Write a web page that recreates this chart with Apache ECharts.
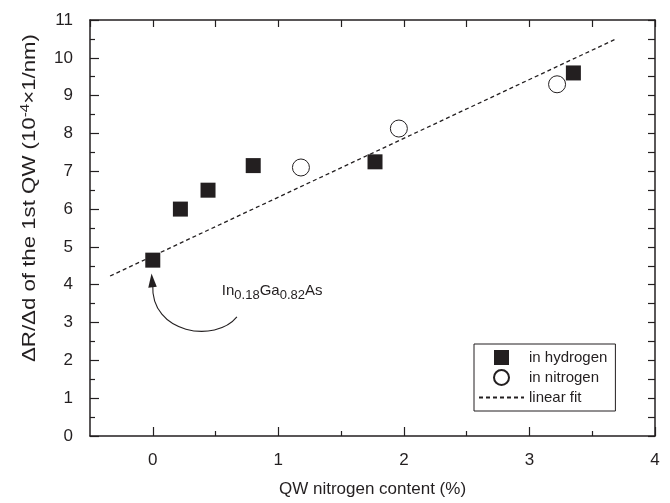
<!DOCTYPE html>
<html>
<head>
<meta charset="utf-8">
<script src="https://cdn.jsdelivr.net/npm/echarts@6/dist/echarts.min.js"></script>
<style>
  html, body { margin: 0; padding: 0; background: #fff; }
  #chart { width: 670px; height: 503px; }
</style>
</head>
<body>
<div id="chart"></div>
<script>
// QW nitrogen content (%) vs dR/dd
const hydrogenX = [0, 0.22, 0.44, 0.8, 1.77, 3.35]
const hydrogenY = [4.65, 6.0, 6.5, 7.15, 7.25, 9.6]
const nitrogenX = [1.18, 1.96, 3.22]
const nitrogenY = [7.1, 8.13, 9.3]
const fitX = [-0.34, 3.69]
const fitY = [4.23, 10.5]
const xMajorTicks = [0, 1, 2, 3, 4]
const xMinorTicks = [0.5, 1.5, 2.5, 3.5]

const ink = '#231f20'
const font = 'Liberation Sans, Arial, sans-serif'
const zip = (xs, ys) => xs.map((x, i) => [x, ys[i]])

const chart = echarts.init(document.getElementById('chart'))

const xBase = { type: 'value', min: -0.5, max: 4, splitLine: { show: false } }
const yBase = { type: 'value', min: 0, max: 11, splitLine: { show: false } }

chart.setOption({
  animation: false,
  backgroundColor: '#fff',
  textStyle: { fontFamily: font, color: ink },
  grid: { left: 90, right: 15, top: 20, bottom: 66 },
  xAxis: [
    {
      ...xBase,
      position: 'bottom',
      name: 'QW nitrogen content (%)',
      nameLocation: 'middle',
      nameGap: 45,
      nameTextStyle: { fontSize: 17, color: ink, fontFamily: font },
      axisLine: { onZero: false, lineStyle: { color: ink, width: 1.5 } },
      axisTick: { inside: true, length: 9, customValues: xMajorTicks, lineStyle: { color: ink, width: 1.2 } },
      axisLabel: { customValues: xMajorTicks, fontSize: 17, color: ink, margin: 16, fontFamily: font }
    },
    {
      ...xBase,
      position: 'bottom',
      axisLine: { show: false, onZero: false },
      axisTick: { inside: true, length: 5, customValues: xMinorTicks, lineStyle: { color: ink, width: 1.2 } },
      axisLabel: { show: false }
    },
    {
      ...xBase,
      position: 'top',
      interval: 0.5,
      axisLine: { onZero: false, lineStyle: { color: ink, width: 1.5 } },
      axisTick: { inside: true, length: 7, lineStyle: { color: ink, width: 1.2 } },
      axisLabel: { show: false }
    }
  ],
  yAxis: [
    {
      ...yBase,
      position: 'left',
      interval: 1,
      axisLine: { onZero: false, lineStyle: { color: ink, width: 1.5 } },
      axisTick: { inside: true, length: 9, lineStyle: { color: ink, width: 1.2 } },
      minorTick: { show: true, splitNumber: 2, length: 5, lineStyle: { color: ink, width: 1.2 } },
      axisLabel: { fontSize: 17, color: ink, margin: 17, fontFamily: font }
    },
    {
      ...yBase,
      position: 'right',
      interval: 0.5,
      axisLine: { onZero: false, lineStyle: { color: ink, width: 1.5 } },
      axisTick: { inside: true, length: 7, lineStyle: { color: ink, width: 1.2 } },
      axisLabel: { show: false }
    }
  ],
  legend: {
    left: 474,
    top: 344,
    orient: 'vertical',
    padding: [6, 8, 6, 4],
    borderColor: ink,
    borderWidth: 1,
    itemWidth: 45,
    itemHeight: 15,
    itemGap: 4,
    textStyle: { fontSize: 15, color: ink, fontFamily: font },
    data: [
      { name: 'in hydrogen', icon: 'path://M0,0H1V1H0Z' },
      { name: 'in nitrogen', icon: 'circle' },
      { name: 'linear fit', itemStyle: { opacity: 0 } }
    ]
  },
  series: [
    {
      name: 'linear fit',
      type: 'line',
      data: zip(fitX, fitY),
      symbol: 'none',
      itemStyle: { color: ink },
      lineStyle: { color: ink, width: 1.3, type: [4, 3] },
      z: 1
    },
    {
      name: 'in hydrogen',
      type: 'scatter',
      data: zip(hydrogenX, hydrogenY),
      symbol: 'rect',
      symbolSize: 15,
      itemStyle: { color: ink, opacity: 1 },
      z: 3
    },
    {
      name: 'in nitrogen',
      type: 'scatter',
      data: zip(nitrogenX, nitrogenY),
      symbol: 'circle',
      symbolSize: 17,
      itemStyle: { color: '#fff', borderColor: ink, borderWidth: 1, opacity: 1 },
      z: 3
    }
  ]
})

// annotation: label + curved arrow pointing at the x=0 point
const px = (x, y) => chart.convertToPixel({ xAxisIndex: 0, yAxisIndex: 0 }, [x, y])
const labelPos = px(0.55, 3.85)
const a0 = px(0.67, 3.15)
const c1 = px(0.5, 2.45)
const c2 = px(-0.02, 2.7)
const tip = px(-0.01, 4.3)
const a1 = px(0.0, 4.0)

chart.setOption({
  graphic: [
    {
      // y axis title, drawn tall like the original
      type: 'text',
      x: 30,
      y: 198,
      rotation: Math.PI / 2,
      scaleX: 1.17,
      style: {
        text: '{t|ΔR/Δd of the 1st QW (10}{s|-4}{t|×1/nm)}',
        align: 'center',
        verticalAlign: 'middle',
        rich: {
          t: { fontSize: 19, fill: ink, fontFamily: font },
          s: { fontSize: 13, fill: ink, fontFamily: font, padding: [0, 0, 9, 0] }
        }
      }
    },
    {
      type: 'text',
      x: labelPos[0],
      y: labelPos[1],
      style: {
        text: '{m|In}{b|0.18}{m|Ga}{b|0.82}{m|As}',
        verticalAlign: 'middle',
        rich: {
          m: { fontSize: 15, fill: ink, fontFamily: font },
          b: { fontSize: 13, fill: ink, fontFamily: font, padding: [10, 0, 0, 0] }
        }
      }
    },
    {
      type: 'bezierCurve',
      shape: { x1: a0[0], y1: a0[1], cpx1: c1[0], cpy1: c1[1], cpx2: c2[0], cpy2: c2[1], x2: a1[0], y2: a1[1] },
      style: { stroke: ink, lineWidth: 1.1, fill: null }
    },
    {
      type: 'polygon',
      shape: { points: [tip, [a1[0] - 4.5, a1[1] + 3], [a1[0] + 4, a1[1] + 2]] },
      style: { fill: ink }
    }
  ]
})
</script>
</body>
</html>
